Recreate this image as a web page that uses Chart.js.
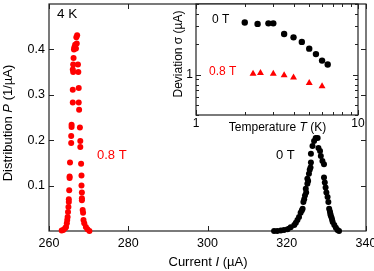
<!DOCTYPE html>
<html>
<head>
<meta charset="utf-8">
<script src="https://cdn.jsdelivr.net/npm/chart.js@4/dist/chart.umd.min.js"></script>
<style>
  html, body { margin: 0; padding: 0; background: #fff; }
  #wrap { position: relative; width: 374px; height: 271px; }
  #main { position: absolute; left: 0; top: 0; }
  #inset { position: absolute; left: 160px; top: 0; }
</style>
</head>
<body>
<div id="wrap">
  <canvas id="main" width="374" height="271"></canvas>
  <canvas id="inset" width="214" height="140"></canvas>
</div>
<script>
// main panel: current distribution at 4 K
const redI = [263.2, 263.6, 264.05, 264.3, 264.5, 264.6, 264.7, 264.8, 264.9, 265.0, 265.0, 265.1, 265.2, 265.2, 265.3,
    265.6, 265.6, 265.7, 265.7, 266.0, 266.0, 266.1, 266.0, 266.1, 266.2, 266.3, 266.4, 266.6, 266.9, 267.1,
    266.8, 267.0, 267.3, 267.4, 267.5, 267.5, 267.6, 267.8, 267.9, 267.9, 268.1, 268.2, 268.2, 268.3, 268.3, 268.3,
    268.5, 268.6, 268.7, 268.9, 269.3, 269.7, 270.2];
const redP = [0.001, 0.002, 0.006, 0.009, 0.017, 0.024, 0.031, 0.042, 0.053, 0.064, 0.070, 0.090, 0.117, 0.120, 0.151,
    0.194, 0.209, 0.229, 0.234, 0.283, 0.311, 0.350, 0.356, 0.367, 0.381, 0.400, 0.405, 0.410, 0.427, 0.431,
    0.402, 0.413, 0.367, 0.350, 0.315, 0.283, 0.267, 0.228, 0.198, 0.185, 0.148, 0.122, 0.100, 0.085, 0.072, 0.068,
    0.046, 0.040, 0.024, 0.017, 0.009, 0.004, 0.000];

const blackI = [316.8, 317.6, 318.5, 319.3, 320.2, 321.0, 321.9, 322.3, 322.7, 323.1, 323.5, 323.8, 324.0, 324.2, 324.4,
    324.6, 324.8, 324.9, 325.2, 325.2, 325.4, 325.6, 325.8, 326.0, 326.1, 326.1, 326.5, 326.9, 327.3, 327.8,
    328.0, 328.4, 328.6, 329.0, 329.4, 329.4, 329.6, 329.8, 330.0, 330.3, 330.5, 330.7, 330.9, 331.0, 331.1,
    331.3, 331.45, 331.6, 332.0, 332.4, 332.8, 333.2];
const blackP = [0.000, 0.000, 0.001, 0.002, 0.004, 0.008, 0.013, 0.018, 0.024, 0.031, 0.040, 0.045, 0.049, 0.064, 0.070,
    0.078, 0.093, 0.085, 0.104, 0.115, 0.110, 0.126, 0.135, 0.140, 0.151, 0.170, 0.187, 0.198, 0.205, 0.205,
    0.183, 0.176, 0.165, 0.154, 0.147, 0.118, 0.107, 0.096, 0.085, 0.075, 0.064, 0.049, 0.043, 0.038, 0.034,
    0.030, 0.025, 0.020, 0.013, 0.007, 0.002, 0.000];

const mainXTicks = [260, 280, 300, 320, 340];
const mainYTicks = [0.1, 0.2, 0.3, 0.4];

// inset: deviation vs temperature
const blackT = [2.0, 2.4, 2.8, 3.0, 3.5, 4.0, 4.5, 5.0, 5.5, 6.0, 6.5];
const blackSigma = [3.28, 3.18, 3.22, 3.22, 2.53, 2.34, 2.11, 1.81, 1.60, 1.38, 1.26];
const redT = [2.25, 2.5, 3.0, 3.5, 4.0, 5.0, 6.0];
const redSigma = [1.02, 1.04, 1.02, 0.99, 0.94, 0.83, 0.77];

const insetXTicks = [1, 2, 3, 4, 5, 6, 7, 8, 9, 10];
const insetYTicks = [0.4, 0.5, 0.6, 0.7, 0.8, 0.9, 1, 2, 3, 4, 5];

const FONT = '"Liberation Sans", Arial, sans-serif';
const RED = '#ff0000';

function pts(xs, ys) {
    return xs.map((x, i) => ({ x: x, y: ys[i] }));
}

function drawRich(ctx, parts, x, y, align, size, color) {
    ctx.save();
    ctx.fillStyle = color;
    ctx.textBaseline = 'middle';
    ctx.textAlign = 'left';
    const fonts = parts.map(p => (p[1] ? 'italic ' : '') + size + 'px ' + FONT);
    let total = 0;
    const widths = parts.map((p, i) => {
        ctx.font = fonts[i];
        const w = ctx.measureText(p[0]).width;
        total += w;
        return w;
    });
    let cx = align === 'center' ? x - total / 2 : x;
    parts.forEach((p, i) => {
        ctx.font = fonts[i];
        ctx.fillText(p[0], cx, y);
        cx += widths[i];
    });
    ctx.restore();
}

function drawRotated(ctx, parts, x, y, size, color) {
    ctx.save();
    ctx.translate(x, y);
    ctx.rotate(-Math.PI / 2);
    drawRich(ctx, parts, 0, 0, 'center', size, color);
    ctx.restore();
}

// box + inward ticks on all four sides
function framePlugin(isMajor, majorLen, minorLen, fillWhite) {
    return {
        id: 'frame',
        beforeDatasetsDraw(chart) {
            const ctx = chart.ctx;
            const a = chart.chartArea;
            const xs = chart.scales.x, ys = chart.scales.y;
            ctx.save();
            if (fillWhite) {
                ctx.fillStyle = '#fff';
                ctx.fillRect(a.left, a.top, a.right - a.left, a.bottom - a.top);
            }
            ctx.strokeStyle = '#222';
            ctx.lineWidth = 1.2;
            ctx.strokeRect(a.left, a.top, a.right - a.left, a.bottom - a.top);
            ctx.lineWidth = 1;
            ctx.beginPath();
            xs.ticks.forEach(t => {
                const px = Math.round(xs.getPixelForValue(t.value)) + 0.5;
                const len = isMajor('x', t.value) ? majorLen : minorLen;
                ctx.moveTo(px, a.bottom); ctx.lineTo(px, a.bottom - len);
                ctx.moveTo(px, a.top); ctx.lineTo(px, a.top + len);
            });
            ys.ticks.forEach(t => {
                const py = Math.round(ys.getPixelForValue(t.value)) + 0.5;
                const len = isMajor('y', t.value) ? majorLen : minorLen;
                ctx.moveTo(a.left, py); ctx.lineTo(a.left + len, py);
                ctx.moveTo(a.right, py); ctx.lineTo(a.right - len, py);
            });
            ctx.stroke();
            ctx.restore();
        }
    };
}

function noPad(scale) {
    scale.paddingLeft = 0;
    scale.paddingRight = 0;
    scale.paddingTop = 0;
    scale.paddingBottom = 0;
}

const mainText = {
    id: 'mainText',
    afterDraw(chart) {
        const ctx = chart.ctx;
        drawRich(ctx, [['4 K', false]], 57, 14, 'left', 13.5, '#000');
        drawRich(ctx, [['0.8 T', false]], 97, 155, 'left', 13, RED);
        drawRich(ctx, [['0 T', false]], 276, 155, 'left', 13, '#000');
        drawRich(ctx, [['Current ', false], ['I', true], [' (\u00b5A)', false]], 208, 262, 'center', 13, '#000');
        drawRotated(ctx, [['Distribution ', false], ['P', true], [' (1/\u00b5A)', false]], 8, 123, 13, '#000');
    }
};

new Chart(document.getElementById('main'), {
    type: 'scatter',
    data: {
        datasets: [
            { data: pts(redI, redP), backgroundColor: RED, borderWidth: 0, pointRadius: 3, clip: false },
            { data: pts(blackI, blackP), backgroundColor: '#000', borderWidth: 0, pointRadius: 3, clip: false }
        ]
    },
    options: {
        responsive: false,
        animation: false,
        layout: { padding: { top: 1, right: 8, left: 0, bottom: 0 } },
        plugins: { legend: { display: false }, tooltip: { enabled: false } },
        scales: {
            x: {
                type: 'linear', min: 260, max: 340,
                afterBuildTicks: s => { s.ticks = mainXTicks.map(v => ({ value: v })); },
                afterFit: s => { s.height = 40; noPad(s); },
                grid: { display: false, drawTicks: false },
                border: { display: false },
                ticks: { padding: 5, color: '#000', font: { size: 12.5, family: FONT }, autoSkip: false, maxRotation: 0 }
            },
            y: {
                type: 'linear', min: 0, max: 0.5,
                afterBuildTicks: s => { s.ticks = mainYTicks.map(v => ({ value: v })); },
                afterFit: s => { s.width = 49; noPad(s); },
                grid: { display: false, drawTicks: false },
                border: { display: false },
                ticks: { padding: 4, color: '#000', font: { size: 12.5, family: FONT }, autoSkip: false,
                    callback: v => v.toFixed(1) }
            }
        }
    },
    plugins: [framePlugin(() => true, 5, 5, false), mainText]
});

const insetText = {
    id: 'insetText',
    afterDraw(chart) {
        const ctx = chart.ctx;
        drawRich(ctx, [['0 T', false]], 52, 20, 'left', 12, '#000');
        drawRich(ctx, [['0.8 T', false]], 49, 72, 'left', 12, RED);
        drawRich(ctx, [['Temperature ', false], ['T', true], [' (K)', false]], 117.5, 128, 'center', 12, '#000');
        drawRotated(ctx, [['Deviation \u03c3 (\u00b5A)', false]], 19, 54, 12, '#000');
    }
};

new Chart(document.getElementById('inset'), {
    type: 'scatter',
    data: {
        datasets: [
            { data: pts(blackT, blackSigma), backgroundColor: '#000', borderWidth: 0, pointRadius: 3.2, clip: false },
            { data: pts(redT, redSigma), backgroundColor: RED, borderWidth: 0, pointStyle: 'triangle', pointRadius: 4, clip: false }
        ]
    },
    options: {
        responsive: false,
        animation: false,
        layout: { padding: { top: 1, right: 16, left: 0, bottom: 0 } },
        plugins: { legend: { display: false }, tooltip: { enabled: false } },
        scales: {
            x: {
                type: 'logarithmic', min: 1, max: 10,
                afterBuildTicks: s => { s.ticks = insetXTicks.map(v => ({ value: v })); },
                afterFit: s => { s.height = 25; noPad(s); },
                grid: { display: false, drawTicks: false },
                border: { display: false },
                ticks: { padding: 1, color: '#000', font: { size: 12, family: FONT }, autoSkip: false, maxRotation: 0,
                    callback: v => (v === 1 || v === 10) ? String(v) : '' }
            },
            y: {
                type: 'logarithmic', min: 0.4, max: 5,
                afterBuildTicks: s => { s.ticks = insetYTicks.map(v => ({ value: v })); },
                afterFit: s => { s.width = 36; noPad(s); },
                grid: { display: false, drawTicks: false },
                border: { display: false },
                ticks: { padding: 3, color: '#000', font: { size: 12, family: FONT }, autoSkip: false,
                    callback: v => v === 1 ? '1' : '' }
            }
        }
    },
    plugins: [framePlugin((ax, v) => v === 1 || v === 10, 5, 3, true), insetText]
});
</script>
</body>
</html>
